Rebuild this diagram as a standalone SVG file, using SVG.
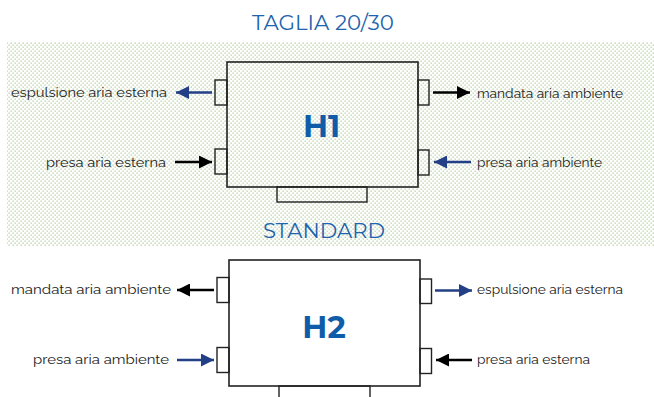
<svg xmlns="http://www.w3.org/2000/svg" width="654" height="397" viewBox="0 0 654 397">
<style>
.box{fill:none;stroke:#222;stroke-width:1.6}
.port{fill:none;stroke:#222;stroke-width:1.4}
.lbl{font-family:Raleway,Lato,"Open Sans",sans-serif;font-size:13.5px;fill:#222}
.ttl{font-family:Montserrat,"Open Sans",sans-serif;font-size:20px;fill:#1e63ad}
.big{font-family:Montserrat,"Open Sans",sans-serif;font-size:31px;font-weight:bold;fill:#0f5ca8}
.ak{stroke:#000;stroke-width:2.6}
.ab{stroke:#233f86;stroke-width:2.6}
</style>
<defs>
<pattern id="dots" width="4" height="4" patternUnits="userSpaceOnUse">
<rect x="0.5" y="0.5" width="1.3" height="1.3" fill="#b2cf9c"/>
<rect x="2.5" y="2.5" width="1.3" height="1.3" fill="#b2cf9c"/>
</pattern>
<marker id="hk" viewBox="0 0 10 10" refX="10" refY="5" markerWidth="7" markerHeight="5" markerUnits="strokeWidth" orient="auto"><path d="M0,0 L10,5 L0,10 z" fill="#000"/></marker>
<marker id="hb" viewBox="0 0 10 10" refX="10" refY="5" markerWidth="7" markerHeight="5" markerUnits="strokeWidth" orient="auto"><path d="M0,0 L10,5 L0,10 z" fill="#233f86"/></marker>
</defs>
<rect x="7" y="42" width="647" height="204" fill="url(#dots)"/>
<text class="ttl" x="323" y="30" text-anchor="middle" textLength="142" lengthAdjust="spacingAndGlyphs">TAGLIA 20/30</text>
<text class="ttl" x="324" y="237.5" text-anchor="middle" textLength="122" lengthAdjust="spacingAndGlyphs">STANDARD</text>

<g id="H1">
<rect class="box" x="227" y="62" width="191" height="125"/>
<rect class="port" x="215" y="80" width="12" height="25"/>
<rect class="port" x="215" y="149" width="12" height="25"/>
<rect class="port" x="418" y="80" width="11" height="25"/>
<rect class="port" x="418" y="150" width="11" height="25"/>
<rect class="port" x="277" y="187" width="90" height="15"/>
<text class="big" x="321.5" y="137" text-anchor="middle">H1</text>
<text class="lbl" x="11" y="97" textLength="156" lengthAdjust="spacingAndGlyphs">espulsione aria esterna</text>
<text class="lbl" x="46" y="167" textLength="120" lengthAdjust="spacingAndGlyphs">presa aria esterna</text>
<text class="lbl" x="477" y="98" textLength="146" lengthAdjust="spacingAndGlyphs">mandata aria ambiente</text>
<text class="lbl" x="477" y="167" textLength="125" lengthAdjust="spacingAndGlyphs">presa aria ambiente</text>
</g>

<g id="H2">
<rect class="box" x="229" y="260" width="191" height="126"/>
<rect class="port" x="217" y="277.5" width="12" height="25"/>
<rect class="port" x="217" y="347.5" width="12" height="25"/>
<rect class="port" x="420" y="279" width="11.5" height="24.5"/>
<rect class="port" x="420" y="348.5" width="11.5" height="25"/>
<rect class="port" x="279" y="386" width="91" height="15"/>
<text class="big" x="324" y="337.5" text-anchor="middle">H2</text>
<text class="lbl" x="11" y="294" textLength="160" lengthAdjust="spacingAndGlyphs">mandata aria ambiente</text>
<text class="lbl" x="33" y="364" textLength="136" lengthAdjust="spacingAndGlyphs">presa aria ambiente</text>
<text class="lbl" x="477" y="294" textLength="146" lengthAdjust="spacingAndGlyphs">espulsione aria esterna</text>
<text class="lbl" x="477" y="364" textLength="113" lengthAdjust="spacingAndGlyphs">presa aria esterna</text>
</g>

<g id="connectors">
<line class="ab" x1="212" y1="92.5" x2="176" y2="92.5" marker-end="url(#hb)"/>
<line class="ak" x1="175" y1="162" x2="212" y2="162" marker-end="url(#hk)"/>
<line class="ak" x1="433" y1="92.5" x2="470" y2="92.5" marker-end="url(#hk)"/>
<line class="ab" x1="471" y1="162" x2="434" y2="162" marker-end="url(#hb)"/>
<line class="ak" x1="214" y1="290" x2="177" y2="290" marker-end="url(#hk)"/>
<line class="ab" x1="177" y1="360" x2="214" y2="360" marker-end="url(#hb)"/>
<line class="ab" x1="435" y1="290.5" x2="472" y2="290.5" marker-end="url(#hb)"/>
<line class="ak" x1="472" y1="360" x2="436" y2="360" marker-end="url(#hk)"/>
</g>
</svg>
